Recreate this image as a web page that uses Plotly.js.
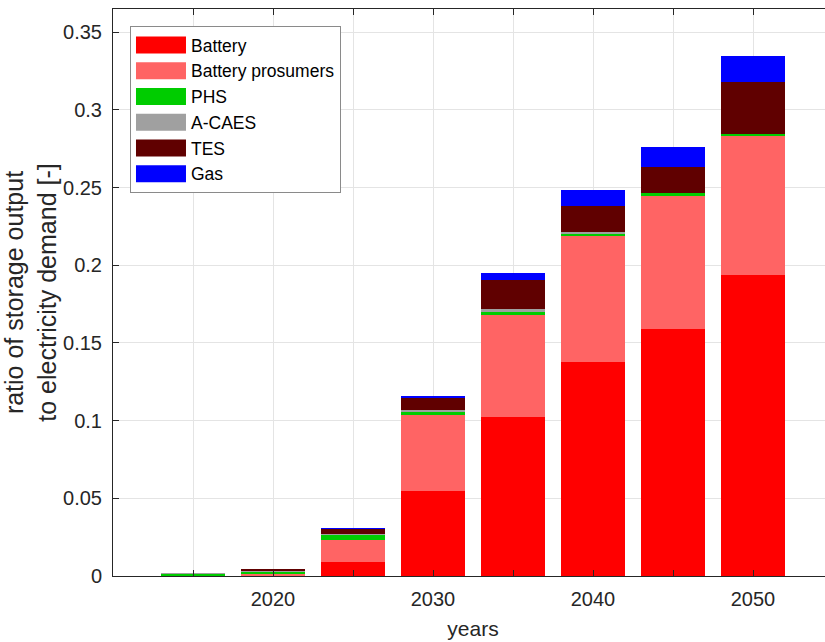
<!DOCTYPE html>
<html>
<head>
<meta charset="utf-8">
<script src="https://cdn.plot.ly/plotly-3.0.1.min.js"></script>
<style>
html, body { margin: 0; padding: 0; overflow: hidden; background: #fff; }
#chart { width: 840px; height: 642px; }
</style>
</head>
<body>
<div id="chart"></div>
<script>
// ---- data ----
const years      = [2015, 2020, 2025, 2030, 2035, 2040, 2045, 2050];
const battery    = [0.0000, 0.0001, 0.0089, 0.0544, 0.1026, 0.1376, 0.1591, 0.1940];
const prosumers  = [0.0001, 0.0012, 0.0144, 0.0491, 0.0657, 0.0811, 0.0858, 0.0890];
const phs        = [0.0013, 0.0013, 0.0028, 0.0019, 0.0019, 0.0017, 0.0017, 0.0015];
const acaes      = [0.0004, 0.0008, 0.0009, 0.0015, 0.0015, 0.0012, 0.0002, 0.0003];
const tes        = [0.0004, 0.0009, 0.0030, 0.0075, 0.0189, 0.0163, 0.0165, 0.0332];
const gas        = [0.0000, 0.0001, 0.0007, 0.0013, 0.0043, 0.0107, 0.0128, 0.0167];

const seriesNames  = ['Battery', 'Battery prosumers', 'PHS', 'A-CAES', 'TES', 'Gas'];
const seriesValues = [battery, prosumers, phs, acaes, tes, gas];
const seriesColors = ['#FF0000', '#FF6464', '#00CC00', '#A0A0A0', '#600000', '#0000FF'];

const xTickVals  = [2015, 2020, 2025, 2030, 2035, 2040, 2045, 2050];
const xTickText  = ['', '2020', '', '2030', '', '2040', '', '2050'];

const FONT = 'Liberation Sans, Arial, Helvetica, sans-serif';

const traces = seriesNames.map((name, i) => ({
  type: 'bar',
  name: name,
  x: years,
  y: seriesValues[i],
  marker: { color: seriesColors[i], line: { width: 0 } },
  hoverinfo: 'x+y+name'
}));

const axisCommon = {
  showline: true,
  linecolor: '#262626',
  linewidth: 1,
  mirror: 'ticks',
  ticks: 'inside',
  ticklen: 6,
  tickcolor: '#262626',
  showgrid: true,
  gridcolor: '#e4e4e4',
  gridwidth: 1,
  zeroline: false,
  tickfont: { family: FONT, size: 20, color: '#262626' }
};

const layout = {
  width: 840,
  height: 642,
  margin: { l: 113, r: 7, t: 9, b: 66, pad: 0 },
  paper_bgcolor: '#ffffff',
  plot_bgcolor: '#ffffff',
  barmode: 'stack',
  bargap: 0.2,
  showlegend: true,
  legend: {
    x: 0.0236, y: 0.970, xanchor: 'left', yanchor: 'top',
    bgcolor: '#ffffff',
    bordercolor: '#8a8a8a',
    borderwidth: 1,
    traceorder: 'normal',
    itemwidth: 50,
    font: { family: FONT, size: 17.5, color: '#000000' }
  },
  xaxis: Object.assign({}, axisCommon, {
    range: [2010, 2055],
    tickmode: 'array',
    tickvals: xTickVals,
    ticktext: xTickText,
    ticklabelstandoff: 5,
    title: { text: 'years', font: { family: FONT, size: 21, color: '#262626' }, standoff: 12 }
  }),
  yaxis: Object.assign({}, axisCommon, {
    range: [0, 0.365],
    tickmode: 'linear',
    tick0: 0,
    dtick: 0.05,
    ticklabelstandoff: 6,
    title: { text: 'ratio of storage output<br>to electricity demand [-]', font: { family: FONT, size: 25, color: '#262626' }, standoff: 0 }
  })
};

Plotly.newPlot('chart', traces, layout, { displayModeBar: false, staticPlot: true }).then(function () {
  // widen legend swatches to look like the reference's wide colour patches
  document.querySelectorAll('.legend .legendpoints path').forEach(function (p) {
    p.setAttribute('d', 'M-25,-8.5H25V8.5H-25Z');
  });
});
</script>
</body>
</html>
